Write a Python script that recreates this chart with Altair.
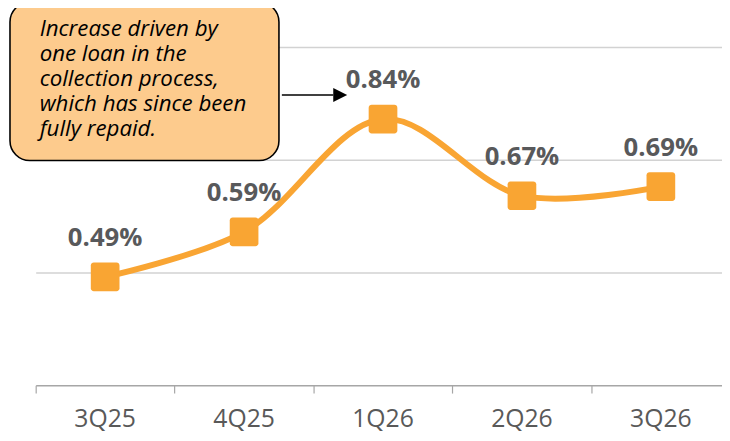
import altair as alt
import pandas as pd

# --- data ---
quarters = ["3Q25", "4Q25", "1Q26", "2Q26", "3Q26"]
values = [0.49, 0.59, 0.84, 0.67, 0.69]
labels = ["0.49%", "0.59%", "0.84%", "0.67%", "0.69%"]

# annotation (in data units: x = quarter index, y = ratio)
note_lines = ["Increase driven by", "one loan in the", "collection process,",
              "which has since been", "fully repaid."]
note_box = {"x": -0.685, "x2": 1.251, "y": 1.099, "y2": 0.748}
note_text_pos = {"x": -0.4715, "y": 1.024}
arrow_line = {"x": 1.272, "x2": 1.642, "y": 0.8935}
arrow_head = {"x": 1.692, "y": 0.8935}

ORANGE = "#F9A533"
GRAY = "#58595B"

df = pd.DataFrame({"i": list(range(len(quarters))), "q": quarters,
                   "v": values, "lab": labels})

W, H = 694, 379
xs = alt.Scale(domain=[-0.5, 4.44], nice=False, zero=False)
ys = alt.Scale(domain=[0.25, 1.081], nice=False, zero=False)

base = alt.Chart(df)

line = base.mark_line(color=ORANGE, strokeWidth=6, interpolate="catmull-rom", clip=False).encode(
    x=alt.X("i:Q", scale=xs,
            axis=alt.Axis(values=[-0.5, 0.5, 1.5, 2.5, 3.5], labels=False, title=None,
                          grid=False, tickSize=8, tickColor="#A6A6A6", tickWidth=1.2,
                          domainColor="#A6A6A6", domainWidth=1.5)),
    y=alt.Y("v:Q", scale=ys,
            axis=alt.Axis(values=[0.5, 0.75, 1.0], labels=False, ticks=False, domain=False,
                          title=None, grid=True, gridColor="#D2D2D2", gridWidth=1.5)),
)

pts = base.mark_rect(color=ORANGE, width=29, height=29, cornerRadius=3).encode(
    x="i:Q", y="v:Q")

val_text = base.mark_text(font="Open Sans", fontWeight="bold", fontSize=26, color=GRAY,
                          baseline="alphabetic", dy=-31).encode(x="i:Q", y="v:Q", text="lab:N")

cat_text = base.mark_text(font="Open Sans", fontSize=25, color="#595959",
                          baseline="alphabetic").encode(
    x="i:Q", y=alt.value(H + 42), text="q:N")

box = alt.Chart(pd.DataFrame([note_box])).mark_rect(
    fill="#FDCB8D", stroke="black", strokeWidth=1.6, cornerRadius=20, clip=False).encode(
    x=alt.X("x:Q", scale=xs), x2="x2:Q", y=alt.Y("y:Q", scale=ys), y2="y2:Q")

note = alt.Chart(pd.DataFrame([note_text_pos])).mark_text(
    text=note_lines, font="Open Sans", fontStyle="italic", fontSize=22.5, color="black",
    align="left", baseline="alphabetic", lineHeight=25.3).encode(
    x=alt.X("x:Q", scale=xs), y=alt.Y("y:Q", scale=ys))

arr = alt.Chart(pd.DataFrame([arrow_line])).mark_rule(color="black", strokeWidth=1.5).encode(
    x=alt.X("x:Q", scale=xs), x2="x2:Q", y=alt.Y("y:Q", scale=ys))

head = alt.Chart(pd.DataFrame([arrow_head])).mark_point(
    shape="M-1,-1L1,0L-1,1Z", size=200, filled=True, color="black", opacity=1).encode(
    x=alt.X("x:Q", scale=xs), y=alt.Y("y:Q", scale=ys))

chart = alt.layer(line, pts, val_text, cat_text, box, note, arr, head).properties(
    width=W, height=H,
    autosize=alt.AutoSizeParams(type="none"),
    padding={"left": 28, "top": 0, "right": 0, "bottom": 46},
).configure_view(stroke=None)

chart.save("out.html", embed_options={"renderer": "svg", "actions": False})
